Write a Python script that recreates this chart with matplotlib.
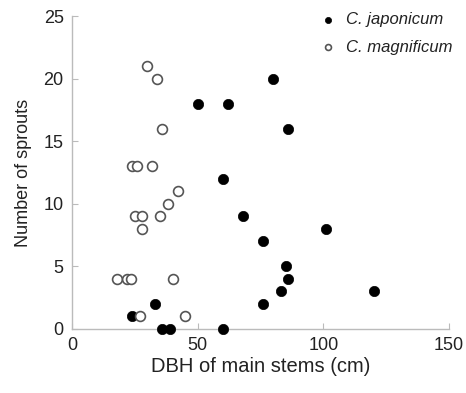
import numpy as np
import matplotlib.pyplot as plt

plt.rcParams['font.family'] = ['Liberation Sans', 'DejaVu Sans']

# C. japonicum (filled)
jap_dbh = [50, 62, 80, 86, 60, 68, 101, 76, 85, 86, 83, 120, 33, 76, 24, 36, 39, 60]
jap_sprouts = [18, 18, 20, 16, 12, 9, 8, 7, 5, 4, 3, 3, 2, 2, 1, 0, 0, 0]

# C. magnificum (open)
mag_dbh = [30, 34, 36, 24, 26, 32, 42, 38, 25, 28, 35, 28, 18, 22, 23.5, 40, 27, 45]
mag_sprouts = [21, 20, 16, 13, 13, 13, 11, 10, 9, 9, 9, 8, 4, 4, 4, 4, 1, 1]

fig = plt.figure(figsize=(4.66, 3.93), dpi=100)
ax = fig.add_axes([0.1545, 0.163, 0.809, 0.796])

ax.scatter(jap_dbh, jap_sprouts, s=55, c='black', edgecolors='black', linewidths=0.5,
           label='C. japonicum', zorder=3, clip_on=False)
ax.scatter(mag_dbh, mag_sprouts, s=50, facecolors='white', edgecolors='#555555', linewidths=1.2,
           label='C. magnificum', zorder=3, clip_on=False)

ax.set_xlim(0, 150)
ax.set_ylim(0, 25)
ax.set_xticks([0, 50, 100, 150])
ax.set_yticks([0, 5, 10, 15, 20, 25])
for s in ['top', 'right']:
    ax.spines[s].set_visible(False)
for s in ['left', 'bottom']:
    ax.spines[s].set_color('#bbbbbb')
    ax.spines[s].set_linewidth(1.0)
ax.tick_params(direction='in', length=4, color='#bbbbbb', labelsize=13, labelcolor='#222222', pad=6)

ax.set_xlabel('DBH of main stems (cm)', fontsize=14.5, color='#222222', labelpad=2)
ax.set_ylabel('Number of sprouts', fontsize=13, color='#222222', labelpad=8)

leg = ax.legend(loc='upper right', bbox_to_anchor=(1.05, 1.06), frameon=False, markerscale=0.6,
                handletextpad=0.1, labelspacing=0.75, prop={'style': 'italic', 'size': 12})
for t in leg.get_texts():
    t.set_color('#222222')

plt.savefig('out.png', dpi=100)
